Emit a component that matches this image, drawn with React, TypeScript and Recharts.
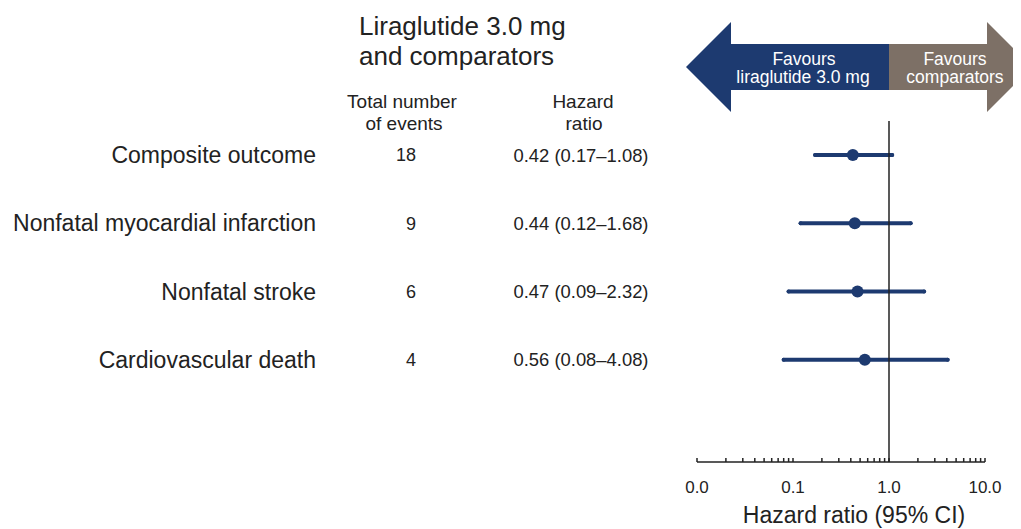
import React from "react";
import {
  ComposedChart,
  Scatter,
  ErrorBar,
  XAxis,
  YAxis,
  ReferenceLine,
} from "recharts";

const outcomes = [
  "Composite outcome",
  "Nonfatal myocardial infarction",
  "Nonfatal stroke",
  "Cardiovascular death",
];
const totalEvents = [18, 9, 6, 4];
const hazardRatios = [0.42, 0.44, 0.47, 0.56];
const ciLower = [0.17, 0.12, 0.09, 0.08];
const ciUpper = [1.08, 1.68, 2.32, 4.08];

const xTicks = [
  0.01, 0.02, 0.03, 0.04, 0.05, 0.06, 0.07, 0.08, 0.09,
  0.1, 0.2, 0.3, 0.4, 0.5, 0.6, 0.7, 0.8, 0.9,
  1, 2, 3, 4, 5, 6, 7, 8, 9, 10,
];
const majorTicks = [0.01, 0.1, 1, 10];
const majorTickLabels = ["0.0", "0.1", "1.0", "10.0"];

const BLUE = "#1d3a70";
const BROWN = "#7d7066";
const INK = "#222";
const FONT = '"Liberation Sans", Arial, Helvetica, sans-serif';

const rows = outcomes.map((name, i) => ({
  name,
  y: i,
  hr: hazardRatios[i],
  ci: [hazardRatios[i] - ciLower[i], ciUpper[i] - hazardRatios[i]],
}));

function formatTick(v: number): string {
  const i = majorTicks.indexOf(v);
  return i >= 0 ? majorTickLabels[i] : "";
}

// left-hand table: one row per y tick
function RowTick(props: any) {
  const { y, payload } = props;
  const i = payload.value;
  return (
    <g>
      <text x={308} y={y} dy="0.35em" textAnchor="end" fontSize={23} fill={INK}>
        {outcomes[i]}
      </text>
      <text x={408} y={y} dy="0.35em" textAnchor="end" fontSize={18} fill={INK}>
        {totalEvents[i]}
      </text>
      <text x={573} y={y} dy="0.35em" textAnchor="middle" fontSize={18.4} fill={INK}>
        {`${hazardRatios[i].toFixed(2)} (${ciLower[i].toFixed(2)}–${ciUpper[i].toFixed(2)})`}
      </text>
    </g>
  );
}

function Dot(props: any) {
  return <circle cx={props.cx} cy={props.cy} r={6} fill={BLUE} />;
}

export default function App() {
  return (
    <div style={{ position: "relative", width: 1013, height: 521, fontFamily: FONT }}>
      <ComposedChart
        width={1013}
        height={521}
        data={rows}
        margin={{ top: 113, right: 36, bottom: 0, left: 0 }}
      >
        <XAxis
          type="number"
          dataKey="hr"
          scale="log"
          domain={[0.01, 10]}
          allowDataOverflow
          ticks={xTicks}
          interval={0}
          tickFormatter={formatTick}
          tickSize={-4}
          tickMargin={23}
          height={67}
          stroke={INK}
          strokeWidth={1.5}
          tick={{ fill: INK, fontSize: 17 }}
          label={{
            value: "Hazard ratio (95% CI)",
            position: "insideBottom",
            offset: 6,
            dx: 13,
            fontSize: 23,
            fill: INK,
          }}
        />
        <YAxis
          type="number"
          dataKey="y"
          domain={[-0.5, 4.5]}
          reversed
          ticks={[0, 1, 2, 3]}
          interval={0}
          width={689}
          axisLine={false}
          tickLine={false}
          tick={<RowTick />}
        />
        <Scatter data={rows} shape={<Dot />} isAnimationActive={false}>
          <ErrorBar
            dataKey="ci"
            direction="x"
            width={0}
            stroke={BLUE}
            strokeWidth={4}
            strokeLinecap="round"
          />
        </Scatter>
        <ReferenceLine x={1} stroke={INK} strokeWidth={1.5} ifOverflow="visible" />
      </ComposedChart>

      <svg
        width={1013}
        height={521}
        style={{ position: "absolute", left: 0, top: 0, pointerEvents: "none", overflow: "hidden" }}
      >
        <text x={351} y={27} fontSize={26} fill={INK}>Liraglutide 3.0 mg</text>
        <text x={351} y={57} fontSize={26} fill={INK}>and comparators</text>

        <text x={394} y={100} fontSize={19} fill={INK} textAnchor="middle">Total number</text>
        <text x={396} y={122} fontSize={19} fill={INK} textAnchor="middle">of events</text>
        <text x={575} y={100} fontSize={19} fill={INK} textAnchor="middle">Hazard</text>
        <text x={576} y={122} fontSize={19} fill={INK} textAnchor="middle">ratio</text>

        {/* favours banner, split at HR = 1 */}
        <polygon
          points="678,59 723,14 723,36 881,36 881,82 723,82 723,104"
          fill={BLUE}
        />
        <polygon
          points="881,36 979,36 979,14 1024,59 979,104 979,82 881,82"
          fill={BROWN}
        />
        <text x={796} y={57} fontSize={17.5} fill="#fff" textAnchor="middle">Favours</text>
        <text x={795} y={75} fontSize={17.5} fill="#fff" textAnchor="middle">liraglutide 3.0 mg</text>
        <text x={947} y={57} fontSize={17.5} fill="#fff" textAnchor="middle">Favours</text>
        <text x={947} y={75} fontSize={17.5} fill="#fff" textAnchor="middle">comparators</text>
      </svg>
    </div>
  );
}
